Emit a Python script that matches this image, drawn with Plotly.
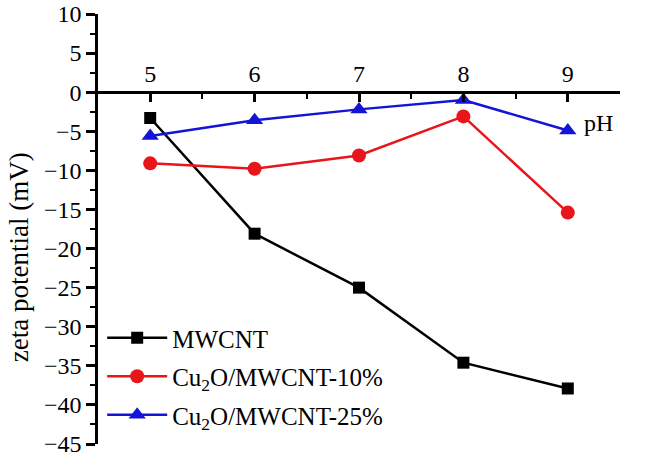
import plotly.graph_objects as go

ph = [5, 6, 7, 8, 9]
mwcnt = [-3.3, -18.1, -25.0, -34.6, -37.9]
cu10 = [-9.1, -9.8, -8.1, -3.1, -15.4]
cu25 = [-5.6, -3.6, -2.2, -1.0, -4.9]
names = ["MWCNT", "Cu<sub>2</sub>O/MWCNT-10%", "Cu<sub>2</sub>O/MWCNT-25%"]
xticks = [5, 6, 7, 8, 9]
yticks = [10, 5, 0, -5, -10, -15, -20, -25, -30, -35, -40, -45]

FONT = "Liberation Serif, DejaVu Serif, serif"
fig = go.Figure()
styles = [("#000000", "square", 12), ("#e8151b", "circle", 14), ("#1414d8", "triangle-up", 15)]
for ys, nm, (c, sym, sz) in zip([mwcnt, cu10, cu25], names, styles):
    fig.add_trace(go.Scatter(
        x=ph, y=ys, mode="lines+markers", name=nm, legendgroup=nm,
        line=dict(color=c, width=2.5),
        marker=dict(color=c, symbol=sym, size=sz),
    ))

ymin, ymax = -45, 10
fig.update_layout(
    width=671, height=457,
    margin=dict(l=98, r=51, t=14, b=13),
    paper_bgcolor="white", plot_bgcolor="white",
    font=dict(family=FONT, size=24, color="black"),
    showlegend=True,
    legend=dict(x=0.008, y=0.30, xanchor="left", yanchor="top",
                bgcolor="rgba(0,0,0,0)", font=dict(size=25, family=FONT),
                tracegroupgap=3, itemwidth=60),
    xaxis=dict(range=[4.5, 9.5], anchor="free", position=(0 - ymin) / (ymax - ymin),
               side="top", showline=True, linecolor="black", linewidth=2.5,
               ticks="inside", ticklen=8, tickwidth=2.5, tickcolor="black",
               tickvals=xticks, ticktext=[str(v) for v in xticks],
               showgrid=False, zeroline=False, automargin=False,
               minor=dict(ticks="inside", dtick=0.5, ticklen=5, tickwidth=2, tickcolor="black"),
               tickfont=dict(size=24, family=FONT)),
    yaxis=dict(range=[ymin, ymax], showline=True, linecolor="black", linewidth=2.5,
               ticks="outside", ticklen=9, tickwidth=2.5, tickcolor="black",
               tickvals=yticks, ticktext=[str(v).replace("-", "\u2212") for v in yticks],
               showgrid=False, zeroline=False, automargin=False, ticklabeloverflow="allow",
               minor=dict(ticks="outside", dtick=2.5, ticklen=5, tickwidth=2, tickcolor="black"),
               tickfont=dict(size=24, family=FONT)),
)
fig.add_annotation(xref="paper", yref="paper", x=-0.151, y=0.435, text="zeta potential (mV)",
                   textangle=-90, showarrow=False, font=dict(size=27, family=FONT),
                   xanchor="center", yanchor="middle")
fig.add_annotation(x=9.29, y=-4.0, text="pH", showarrow=False,
                   font=dict(size=24, family=FONT), xanchor="center", yanchor="middle")
fig.write_html("out.html", config={"displayModeBar": False},
               post_script="document.body.style.margin='0px';")
